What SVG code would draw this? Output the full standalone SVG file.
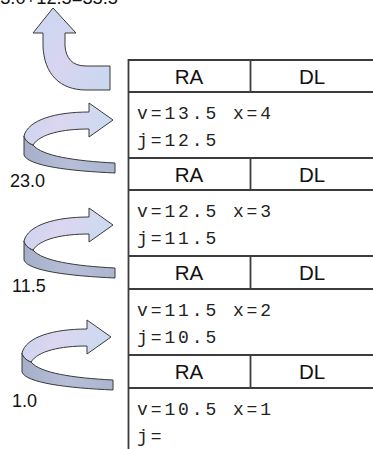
<svg xmlns="http://www.w3.org/2000/svg" xmlns:xlink="http://www.w3.org/1999/xlink" width="373" height="449" viewBox="0 0 373 449">
<style>
.ln{stroke:#3c3c3c;stroke-width:1.8;fill:none}
.hd{font-family:"Liberation Sans",Arial,sans-serif;font-size:20.5px;fill:#111;text-anchor:middle}
.mono{font-family:"Liberation Mono","Courier New",monospace;font-size:18px;letter-spacing:2.9px;fill:#222}
.num{font-family:"Liberation Sans",Arial,sans-serif;font-size:18px;fill:#111}
.sh{stroke:#3a3a3a;stroke-width:1;stroke-linejoin:round}
</style>
<defs>
<linearGradient id="gTop" x1="0" y1="0" x2="1" y2="0.3">
<stop offset="0" stop-color="#c6d3ee"/>
<stop offset="0.5" stop-color="#dcd6f0"/>
<stop offset="1" stop-color="#cbdaf0"/>
</linearGradient>
<linearGradient id="gBand" x1="0" y1="0" x2="1" y2="0">
<stop offset="0" stop-color="#a6afc8"/>
<stop offset="0.5" stop-color="#b7bfd8"/>
<stop offset="1" stop-color="#aab5cf"/>
</linearGradient>
<linearGradient id="gUp" x1="0" y1="0" x2="1" y2="1">
<stop offset="0" stop-color="#c9d8f3"/>
<stop offset="0.5" stop-color="#d8d4f0"/>
<stop offset="1" stop-color="#c8d8ef"/>
</linearGradient>
<g id="uturn">
<path class="sh" fill="url(#gBand)" d="M24,136 L24,155 C28,166 70,171 115,173 L115,163 C75,161 42,156 33,145 C28,143 25,140 24,136 Z"/>
<path class="sh" fill="url(#gTop)" d="M24,136 C28,120 55,112 89,112 L89,103 L113,120 L89,137 L89,129 C62,129 40,134 33,145 C28,143 25,140 24,136 Z"/>
</g>
</defs>
<g id="arrows">
<path id="uparrow" class="sh" fill="url(#gUp)" d="M53,8 L76,33 L65,33 L65,46 C66,58 72,66 86,66 L110,66 L110,90 L86,90 C60,90 44,74 43,46 L43,33 L33,33 Z"/>
<use id="uturn1" xlink:href="#uturn"/>
<use id="uturn2" xlink:href="#uturn" transform="translate(0,105)"/>
<use id="uturn3" xlink:href="#uturn" transform="translate(-2,217)"/>
</g>
<g id="labels">
<text class="num" x="-10" y="3.5" textLength="128" lengthAdjust="spacingAndGlyphs">23.0+12.5=35.5</text>
<text class="num" x="10" y="187">23.0</text>
<text class="num" x="12" y="292">11.5</text>
<text class="num" x="12" y="407">1.0</text>
</g>
<g id="stack">
<line class="ln" x1="128.5" y1="59" x2="128.5" y2="449"/>
</g>
<g id="frame1">
<line class="ln" x1="128" y1="60" x2="380" y2="60"/>
<line class="ln" x1="128" y1="92" x2="380" y2="92"/>
<line class="ln" x1="250.5" y1="60" x2="250.5" y2="92"/>
<text class="hd" x="189" y="84">RA</text>
<text class="hd" x="312" y="84">DL</text>
<text class="mono" x="137" y="119">v=13.5 x=4</text>
<text class="mono" x="137" y="146">j=12.5</text>
</g>
<g id="frame2">
<line class="ln" x1="128" y1="158" x2="380" y2="158"/>
<line class="ln" x1="128" y1="190" x2="380" y2="190"/>
<line class="ln" x1="250.5" y1="158" x2="250.5" y2="190"/>
<text class="hd" x="189" y="182">RA</text>
<text class="hd" x="312" y="182">DL</text>
<text class="mono" x="137" y="217">v=12.5 x=3</text>
<text class="mono" x="137" y="244">j=11.5</text>
</g>
<g id="frame3">
<line class="ln" x1="128" y1="256" x2="380" y2="256"/>
<line class="ln" x1="128" y1="289" x2="380" y2="289"/>
<line class="ln" x1="250.5" y1="256" x2="250.5" y2="289"/>
<text class="hd" x="189" y="280">RA</text>
<text class="hd" x="312" y="280">DL</text>
<text class="mono" x="137" y="316">v=11.5 x=2</text>
<text class="mono" x="137" y="343">j=10.5</text>
</g>
<g id="frame4">
<line class="ln" x1="128" y1="355" x2="380" y2="355"/>
<line class="ln" x1="128" y1="388" x2="380" y2="388"/>
<line class="ln" x1="250.5" y1="355" x2="250.5" y2="388"/>
<text class="hd" x="189" y="379">RA</text>
<text class="hd" x="312" y="379">DL</text>
<text class="mono" x="137" y="415">v=10.5 x=1</text>
<text class="mono" x="137" y="442">j=</text>
</g>
</svg>
